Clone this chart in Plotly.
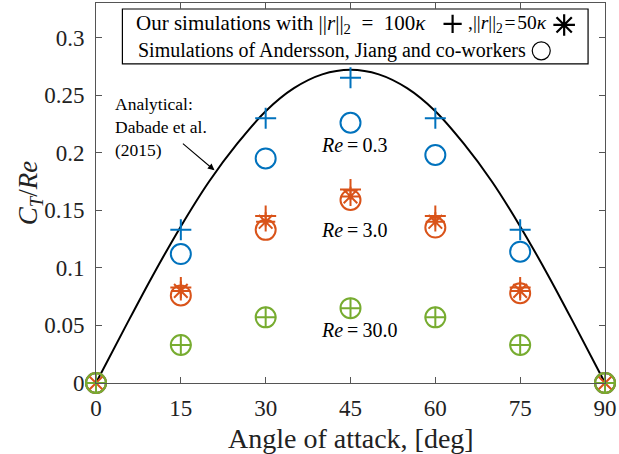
import plotly.graph_objects as go

# Angle of attack [deg]
angles = [0, 15, 30, 45, 60, 75, 90]

# Our simulations, ||r||_2 = 100 kappa
ct_re03_100 = [0, 0.133, 0.230, 0.265, 0.230, 0.133, 0]
ct_re3_100 = [0, 0.083, 0.145, 0.168, 0.145, 0.083, 0]
ct_re30_100 = [0, 0.033, 0.057, 0.065, 0.057, 0.033, 0]

# Our simulations, ||r||_2 = 50 kappa (Re = 3.0 only)
ct_re3_50 = [0, 0.080, 0.140, 0.162, 0.140, 0.080, 0]

# Andersson, Jiang and co-workers
ct_re03_ref = [0, 0.112, 0.195, 0.226, 0.198, 0.114, 0]
ct_re3_ref = [0, 0.076, 0.133, 0.159, 0.135, 0.078, 0]
ct_re30_ref = [0, 0.033, 0.057, 0.065, 0.057, 0.033, 0]

# Analytical curve (Dabade et al. 2015)
curve_angles = [0, 5, 10, 15, 20, 25, 30, 35, 40, 45, 50, 55, 60, 65, 70, 75, 80, 85, 90]
curve_ct = [0, 0.047, 0.093, 0.136, 0.175, 0.208, 0.236, 0.256, 0.268, 0.272,
            0.268, 0.256, 0.236, 0.208, 0.175, 0.136, 0.093, 0.047, 0]

x_ticks = [0, 15, 30, 45, 60, 75, 90]
y_ticks = [0, 0.05, 0.1, 0.15, 0.2, 0.25, 0.3]
y_tick_text = ["0", "0.05", "0.1", "0.15", "0.2", "0.25", "0.3"]

BLUE = "#0072BD"
ORANGE = "#D95319"
GREEN = "#77AC30"
AXIS = "#555555"
FONT = "Liberation Serif"
EQ = "\u2009=\u2009"   # math-style spacing around the equals sign
EQ_WIDE = "\u2002=\u2002"
EQ_TIGHT = "\u200a=\u200a"

W, H = 619, 454
L, R, T, B = 96, 12, 2, 71

fig = go.Figure()

fig.add_trace(go.Scatter(x=curve_angles, y=curve_ct, mode="lines",
                         line=dict(color="black", width=2, shape="spline"),
                         showlegend=False, hoverinfo="skip"))


def markers(y, color, symbol, size):
    fig.add_trace(go.Scatter(
        x=angles, y=y, mode="markers", cliponaxis=False, showlegend=False,
        marker=dict(symbol=symbol, size=size, color=color,
                    line=dict(color=color, width=2))))


PLUS, STAR, CIRC = "cross-thin-open", "asterisk-open", "circle-open"
markers(ct_re03_100, BLUE, PLUS, 15)
markers(ct_re03_ref, BLUE, CIRC, 20)
markers(ct_re3_100, ORANGE, PLUS, 15)
markers(ct_re3_50, ORANGE, STAR, 16)
markers(ct_re3_ref, ORANGE, CIRC, 20)
markers(ct_re30_100, GREEN, PLUS, 15)
markers(ct_re30_ref, GREEN, CIRC, 20)

# Legend glyphs on a pixel-based overlay axis
fig.add_trace(go.Scatter(x=[454], y=[23], xaxis="x2", yaxis="y2", mode="markers",
                         cliponaxis=False, showlegend=False,
                         marker=dict(symbol=PLUS, size=13, color="black",
                                     line=dict(color="black", width=2.2))))
fig.add_trace(go.Scatter(x=[566], y=[24], xaxis="x2", yaxis="y2", mode="markers",
                         cliponaxis=False, showlegend=False,
                         marker=dict(symbol=STAR, size=18, color="black",
                                     line=dict(color="black", width=2.2))))
fig.add_trace(go.Scatter(x=[543], y=[50], xaxis="x2", yaxis="y2", mode="markers",
                         cliponaxis=False, showlegend=False,
                         marker=dict(symbol=CIRC, size=18, color="black",
                                     line=dict(color="black", width=1.2))))

fig.add_shape(type="rect", xref="x2", yref="y2", x0=122.5, x1=590, y0=8, y1=63,
              line=dict(color="black", width=1.2), fillcolor="white", layer="below")

ann = []
ann.append(dict(xref="x2", yref="y2", x=134, y=23, xanchor="left", yanchor="middle",
                text=f"Our simulations with ||<i>r</i>||<sub>2</sub>{EQ_WIDE}100<i>κ</i>",
                showarrow=False, font=dict(size=21, family=FONT, color="black")))
ann.append(dict(xref="x2", yref="y2", x=551, y=23, xanchor="right", yanchor="middle",
                text=f",||<i>r</i>||<sub>2</sub>{EQ_TIGHT}50<i>κ</i>",
                showarrow=False, font=dict(size=19.5, family=FONT, color="black")))
ann.append(dict(xref="x2", yref="y2", x=136, y=50, xanchor="left", yanchor="middle",
                text="Simulations of Andersson, Jiang and co-workers",
                showarrow=False, font=dict(size=20, family=FONT, color="black")))

# Reynolds number labels
for yv, lbl in [(0.2063, "0.3"), (0.1327, "3.0"), (0.0462, "30.0")]:
    ann.append(dict(x=39.4, y=yv, xanchor="left", yanchor="middle",
                    text=f"<i>Re</i>{EQ}{lbl}", showarrow=False,
                    font=dict(size=20, family=FONT, color="black")))

# Analytical curve label and arrow
ann.append(dict(x=3.0, y=0.2227, xanchor="left", yanchor="middle", align="left",
                text="Analytical:<br>Dabade et al.<br>(2015)", showarrow=False,
                font=dict(size=17.5, family=FONT, color="black")))
ann.append(dict(x=20.95, y=0.1847, ax=15.1, ay=0.209, axref="x", ayref="y",
                text="", showarrow=True, arrowhead=2, arrowsize=1.2,
                arrowwidth=1.1, arrowcolor="black", standoff=0))

# Axis titles
ann.append(dict(xref="paper", yref="paper", x=0.5, y=-0.145, xanchor="center",
                yanchor="middle", text="Angle of attack, [deg]", showarrow=False,
                font=dict(size=28, family=FONT, color="#222")))
ann.append(dict(xref="paper", yref="paper", x=-0.129, y=0.5, xanchor="center",
                yanchor="middle", text="<i>C<sub>T</sub></i>/<i>Re</i>", textangle=-90,
                showarrow=False, font=dict(size=27, family=FONT, color="#222")))

axis_common = dict(showline=True, linecolor=AXIS, linewidth=1, mirror="ticks",
                   ticks="inside", ticklen=6, tickcolor=AXIS, showgrid=False,
                   zeroline=False, tickfont=dict(size=23, family=FONT, color="#222"))

fig.update_layout(
    width=W, height=H, margin=dict(l=L, r=R, t=T, b=B),
    paper_bgcolor="white", plot_bgcolor="white",
    xaxis=dict(range=[0, 90], tickvals=x_ticks, ticklabelstandoff=4, **axis_common),
    yaxis=dict(range=[0, 0.33], tickvals=y_ticks, ticktext=y_tick_text,
               ticklabelstandoff=6, **axis_common),
    xaxis2=dict(overlaying="x", range=[L, W - R], visible=False),
    yaxis2=dict(overlaying="y", range=[H - B, T], visible=False),
    annotations=ann,
    showlegend=False,
)

fig.write_html("out.html")
